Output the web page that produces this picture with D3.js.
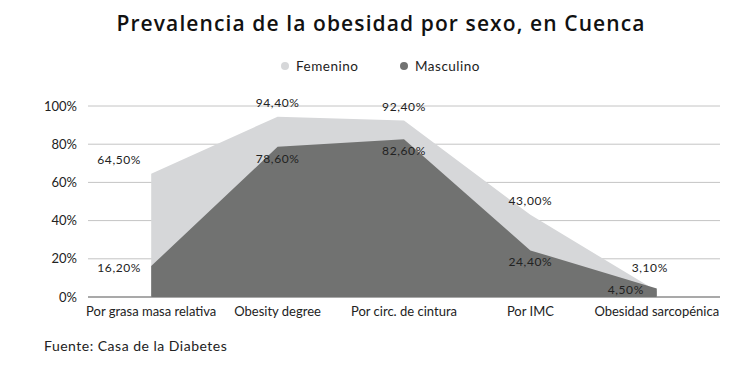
<!DOCTYPE html>
<html lang="es">
<head>
<meta charset="utf-8">
<title>Prevalencia de la obesidad por sexo, en Cuenca</title>
<style>
  body { margin: 0; background: #fff; }
  svg text { font-family: Lato, "Open Sans", sans-serif; fill: #222; }
</style>
</head>
<body>
<svg id="chart"></svg>
<script src="https://d3js.org/d3.v7.min.js"></script>
<script>
const categories = ["Por grasa masa relativa", "Obesity degree", "Por circ. de cintura", "Por IMC", "Obesidad sarcopénica"];
const femenino = [64.5, 94.4, 92.4, 43.0, 3.1];
const masculino = [16.2, 78.6, 82.6, 24.4, 4.5];
const yTicks = [0, 20, 40, 60, 80, 100];

const W = 755, H = 372;
const margin = {left: 88, right: 35, top: 106, bottom: 75};

const svg = d3.select("#chart").attr("width", W).attr("height", H);

const x = d3.scaleBand().domain(categories).range([margin.left, W - margin.right]);
const y = d3.scaleLinear().domain([0, 100]).range([H - margin.bottom, margin.top]);
const cx = d => x(d) + x.bandwidth() / 2;

// title
svg.append("text").attr("x", 381).attr("y", 31).attr("text-anchor", "middle")
  .style("font-family", "'Open Sans', sans-serif").style("font-weight", 600)
  .style("font-size", "21px").style("letter-spacing", "1.1px").style("fill", "#111")
  .text("Prevalencia de la obesidad por sexo, en Cuenca");

// legend
const legend = [["Femenino", "#d6d7d9", 285], ["Masculino", "#717271", 404]];
legend.forEach(l => {
  svg.append("circle").attr("cx", l[2]).attr("cy", 66).attr("r", 4).style("fill", l[1]);
  svg.append("text").attr("x", l[2] + 11).attr("y", 70.5).style("font-size", "13.5px")
    .style("letter-spacing", "0.5px").text(l[0]);
});

// gridlines
svg.append("g").selectAll("line").data(yTicks).enter().append("line")
  .attr("x1", margin.left).attr("x2", W - margin.right)
  .attr("y1", d => y(d)).attr("y2", d => y(d))
  .style("stroke", d => d === 0 ? "#a9a9a9" : "#c4c4c4")
  .style("stroke-width", d => d === 0 ? 2 : 1);

// y axis labels
svg.append("g").selectAll("text").data(yTicks).enter().append("text")
  .attr("x", 77).attr("y", d => y(d) + 4.5).attr("text-anchor", "end")
  .style("font-size", "13px").text(d => d + "%");

// areas
const area = d3.area().x((d, i) => cx(categories[i])).y0(y(0)).y1(d => y(d));
svg.append("path").datum(femenino).attr("d", area).style("fill", "#d6d7d9");
svg.append("path").datum(masculino).attr("d", area).style("fill", "#717271");

// x labels
svg.append("g").selectAll("text").data(categories).enter().append("text")
  .attr("x", d => cx(d)).attr("y", 315.5).attr("text-anchor", "middle")
  .style("font-size", "13px").text(d => d);

// value labels
const fmt = v => v.toFixed(2).replace(".", ",") + "%";
const last = categories.length - 1;
svg.append("g").selectAll("text").data(femenino).enter().append("text")
  .attr("x", (d, i) => cx(categories[i]) + (i === 0 ? -32 : i === last ? -7 : 0))
  .attr("y", (d, i) => y(d) - (i === last ? 19 : 10))
  .attr("text-anchor", "middle").style("font-size", "12px").style("letter-spacing", "0.6px")
  .text(fmt);
svg.append("g").selectAll("text").data(masculino).enter().append("text")
  .attr("x", (d, i) => cx(categories[i]) + (i === 0 ? -32 : i === last ? -31 : 0))
  .attr("y", (d, i) => i === 0 ? y(d) + 6 : Math.min(y(d) + 16, y(0) - 3))
  .attr("text-anchor", "middle").style("font-size", "12px").style("letter-spacing", "0.6px")
  .text(fmt);

// source
svg.append("text").attr("x", 44).attr("y", 351).style("font-size", "14px")
  .style("letter-spacing", "0.5px").text("Fuente: Casa de la Diabetes");
</script>
</body>
</html>
